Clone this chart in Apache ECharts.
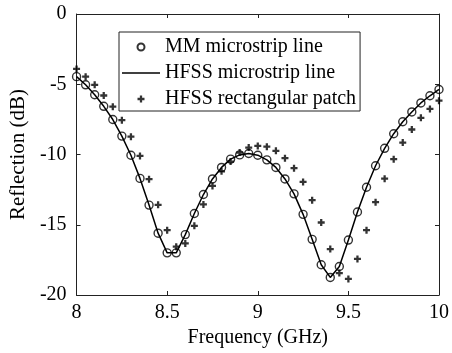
<!DOCTYPE html>
<html>
<head>
<meta charset="utf-8">
<script src="https://cdn.jsdelivr.net/npm/echarts@6/dist/echarts.min.js"></script>
<style>
html, body { margin: 0; padding: 0; background: #fff; }
#chart { width: 452px; height: 353px; }
</style>
</head>
<body>
<div id="chart"></div>
<script>
// frequency points (GHz)
const freq = [8.00, 8.05, 8.10, 8.15, 8.20, 8.25, 8.30, 8.35, 8.40, 8.45,
              8.50, 8.55, 8.60, 8.65, 8.70, 8.75, 8.80, 8.85, 8.90, 8.95,
              9.00, 9.05, 9.10, 9.15, 9.20, 9.25, 9.30, 9.35, 9.40, 9.45,
              9.50, 9.55, 9.60, 9.65, 9.70, 9.75, 9.80, 9.85, 9.90, 9.95, 10.00];

// MM microstrip line (circles)
const mmLine = [-4.46, -5.04, -5.75, -6.57, -7.51, -8.69, -10.05, -11.70, -13.60, -15.60,
                -17.00, -17.00, -15.70, -14.20, -12.85, -11.74, -10.92, -10.33, -10.03, -9.93,
                -10.05, -10.38, -10.92, -11.74, -12.80, -14.26, -16.04, -17.85, -18.75, -17.97,
                -16.09, -14.09, -12.33, -10.80, -9.56, -8.52, -7.67, -6.97, -6.33, -5.82, -5.37];

// HFSS microstrip line (solid)
const hfssLine = [-4.46, -5.04, -5.75, -6.57, -7.51, -8.69, -10.05, -11.70, -13.60, -15.60,
                  -17.00, -17.00, -15.70, -14.20, -12.85, -11.74, -10.92, -10.33, -10.03, -9.93,
                  -10.05, -10.38, -10.92, -11.74, -12.80, -14.26, -16.04, -17.85, -18.75, -17.97,
                  -16.09, -14.09, -12.33, -10.80, -9.56, -8.52, -7.67, -6.97, -6.33, -5.82, -5.37];

// HFSS rectangular patch (plus)
const hfssPatch = [-3.91, -4.46, -5.04, -5.80, -6.60, -7.56, -8.73, -10.10, -11.76, -13.58,
                   -15.39, -16.56, -16.33, -15.08, -13.55, -12.24, -11.20, -10.50, -9.86, -9.51,
                   -9.39, -9.44, -9.74, -10.26, -10.97, -11.95, -13.25, -14.84, -16.73, -18.44,
                   -18.86, -17.43, -15.39, -13.39, -11.72, -10.33, -9.15, -8.22, -7.39, -6.76, -6.17];

const xTicks = [8, 8.5, 9, 9.5, 10];
const yTicks = [-20, -15, -10, -5, 0];

const font = 'Liberation Serif, Times New Roman, serif';
const plusPath = 'path://M-1.3,-4H1.3V-1.3H4V1.3H1.3V4H-1.3V1.3H-4V-1.3H-1.3Z';
const linePath = 'path://M0,0H38V1.5H0Z';

function pairs(ys) {
    return freq.map((f, i) => [f, ys[i]]);
}

const chart = echarts.init(document.getElementById('chart'), null, { renderer: 'canvas' });

const axisCommon = {
    axisLine: { show: true, onZero: false, lineStyle: { color: '#222', width: 1 } },
    axisTick: { show: true, inside: true, length: 4, lineStyle: { color: '#222' } },
    splitLine: { show: false }
};

const option = {
    animation: false,
    backgroundColor: '#fff',
    textStyle: { fontFamily: font, color: '#000' },
    grid: { left: 75, right: 10, top: 14, bottom: 56 },
    legend: {
        orient: 'vertical',
        left: 119,
        top: 32,
        padding: [5, 4, 2, 3],
        itemGap: 6,
        itemWidth: 38,
        itemHeight: 7,
        borderColor: '#222',
        borderWidth: 1,
        backgroundColor: '#fff',
        textStyle: { fontFamily: font, fontSize: 20, color: '#000' },
        data: [
            { name: 'MM microstrip line', icon: 'circle' },
            { name: 'HFSS microstrip line', icon: linePath },
            { name: 'HFSS rectangular patch', icon: plusPath }
        ]
    },
    xAxis: [
        Object.assign({
            type: 'value', min: 8, max: 10, interval: 0.5, position: 'bottom',
            name: 'Frequency (GHz)', nameLocation: 'middle', nameGap: 33,
            nameTextStyle: { fontFamily: font, fontSize: 20, color: '#000' },
            axisLabel: {
                fontFamily: font, fontSize: 20, color: '#000', margin: 8,
                formatter: v => xTicks.includes(v) ? String(v) : ''
            }
        }, axisCommon),
        Object.assign({
            type: 'value', min: 8, max: 10, interval: 0.5, position: 'top',
            axisLabel: { show: false }
        }, axisCommon)
    ],
    yAxis: [
        Object.assign({
            type: 'value', min: -20, max: 0, interval: 5, position: 'left',
            name: 'Reflection (dB)', nameLocation: 'middle', nameGap: 37,
            nameTextStyle: { fontFamily: font, fontSize: 21, color: '#000' },
            axisLabel: {
                fontFamily: font, fontSize: 20, color: '#000', margin: 10,
                formatter: v => yTicks.includes(v) ? String(v) : ''
            }
        }, axisCommon),
        Object.assign({
            type: 'value', min: -20, max: 0, interval: 5, position: 'right',
            axisLabel: { show: false }
        }, axisCommon)
    ],
    series: [
        {
            name: 'HFSS microstrip line',
            type: 'line',
            data: pairs(hfssLine),
            symbol: 'none',
            color: '#000',
            lineStyle: { color: '#000', width: 1.5 },
            z: 2
        },
        {
            name: 'MM microstrip line',
            type: 'scatter',
            data: pairs(mmLine),
            symbol: 'circle',
            symbolSize: 8,
            itemStyle: { color: 'transparent', borderColor: '#000', borderWidth: 1.4 },
            z: 3
        },
        {
            name: 'HFSS rectangular patch',
            type: 'scatter',
            data: pairs(hfssPatch),
            symbol: plusPath,
            symbolSize: 7,
            itemStyle: { color: '#000' },
            z: 3
        }
    ]
};

chart.setOption(option);
</script>
</body>
</html>
